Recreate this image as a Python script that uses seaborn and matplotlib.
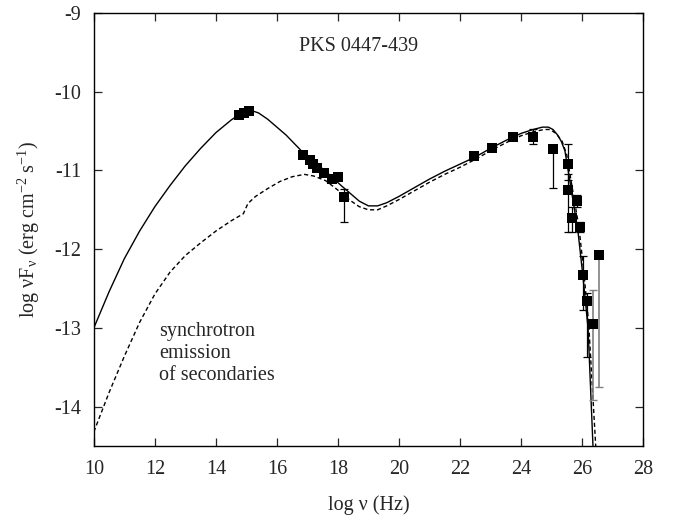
import numpy as np
import pandas as pd
import matplotlib
matplotlib.use("Agg")
import matplotlib.pyplot as plt
import seaborn as sns

# ---- data ----
total_x = [10.0, 10.5, 11.0, 11.5, 12.0, 12.5, 13.0, 13.5, 14.0, 14.5, 14.8, 15.1, 15.4, 15.7,
           16.0, 16.3, 16.6, 16.9, 17.2, 17.5, 17.8, 18.1, 18.4, 18.7, 19.0, 19.3, 19.6, 20.0,
           20.5, 21.0, 21.5, 22.0, 22.5, 23.0, 23.5, 24.0, 24.4, 24.7, 24.9, 25.05, 25.2,
           25.32, 25.44, 25.61, 25.87, 26.03, 26.2, 26.36]
total_y = [-13.00, -12.54, -12.12, -11.77, -11.46, -11.19, -10.94, -10.72, -10.52, -10.36,
           -10.28, -10.23, -10.27, -10.35, -10.45, -10.55, -10.67, -10.79, -10.88, -10.98,
           -11.08, -11.19, -11.29, -11.39, -11.45, -11.45, -11.41, -11.33, -11.22, -11.11,
           -11.01, -10.92, -10.83, -10.72, -10.62, -10.53, -10.48, -10.45, -10.45, -10.48,
           -10.55, -10.63, -10.75, -11.15, -11.78, -12.34, -13.01, -14.50]

sec_x = [10.0, 10.5, 11.0, 11.5, 12.0, 12.5, 13.0, 13.5, 14.0, 14.5, 14.9, 15.05, 15.3, 15.7,
         16.1, 16.5, 16.9, 17.2, 17.6, 18.0, 18.4, 18.7, 19.0, 19.3, 19.6, 20.0, 20.5, 21.0,
         21.5, 22.0, 22.5, 23.0, 23.5, 24.0, 24.4, 24.75, 24.95, 25.15, 25.35, 25.5, 25.65,
         25.9, 26.05, 26.22, 26.45]
sec_y = [-14.32, -13.82, -13.36, -12.93, -12.57, -12.29, -12.08, -11.92, -11.77, -11.64,
         -11.55, -11.42, -11.33, -11.23, -11.14, -11.08, -11.05, -11.07, -11.13, -11.25,
         -11.38, -11.46, -11.50, -11.50, -11.45, -11.37, -11.26, -11.15, -11.05, -10.96,
         -10.86, -10.75, -10.65, -10.56, -10.51, -10.48, -10.48, -10.53, -10.63, -10.80,
         -11.15, -11.72, -12.25, -12.95, -14.50]

obs_x = [14.75, 14.92, 15.08, 16.85, 17.08, 17.18, 17.31, 17.54, 17.80, 18.00, 18.20,
         22.46, 23.05, 23.74, 24.39, 25.05, 25.54, 25.54, 25.84, 25.67, 25.93, 26.03,
         26.16, 26.36, 26.56]
obs_y = [-10.30, -10.27, -10.24, -10.80, -10.87, -10.92, -10.97, -11.03, -11.11, -11.08,
         -11.34, -10.82, -10.71, -10.57, -10.57, -10.73, -10.92, -11.25, -11.39, -11.61,
         -11.72, -12.33, -12.66, -12.95, -12.07]

# error bars (lower, upper)
err_x = [18.20, 24.39, 25.05, 25.54, 25.54, 25.67, 25.84, 25.93, 26.03, 26.16]
err_y = [-11.34, -10.57, -10.73, -10.92, -11.25, -11.61, -11.39, -11.72, -12.33, -12.66]
err_lo = [0.31, 0.09, 0.49, 0.20, 0.53, 0.17, 0.08, 0.06, 0.44, 0.71]
err_hi = [0.11, 0.10, 0.05, 0.25, 0.20, 0.14, 0.08, 0.06, 0.24, 0.10]

grey_x = [26.36, 26.56]
grey_y = [-12.95, -12.07]
grey_lo = [0.97, 1.68]
grey_hi = [0.43, 0.0]

x_ticks = [10, 12, 14, 16, 18, 20, 22, 24, 26, 28]
y_ticks = [-14, -13, -12, -11, -10, -9]

# ---- style ----
sns.set_theme(style="ticks")
plt.rcParams["font.family"] = ["Liberation Serif", "DejaVu Serif"]
plt.rcParams["mathtext.fontset"] = "custom"
plt.rcParams["mathtext.rm"] = "Liberation Serif"
plt.rcParams["mathtext.it"] = "Liberation Serif:italic"
plt.rcParams["mathtext.bf"] = "Liberation Serif:bold"
plt.rcParams["axes.unicode_minus"] = False

fig = plt.figure(figsize=(6.8, 5.17), dpi=100)
ax = fig.add_axes([0.138, 0.1373, 0.8076, 0.8376])

df_tot = pd.DataFrame({"x": total_x, "y": total_y})
df_sec = pd.DataFrame({"x": sec_x, "y": sec_y})
df_obs = pd.DataFrame({"x": obs_x, "y": obs_y})

sns.lineplot(data=df_tot, x="x", y="y", ax=ax, color="black", lw=1.0, sort=False,
             estimator=None)
sns.lineplot(data=df_sec, x="x", y="y", ax=ax, color="black", lw=1.0, sort=False,
             estimator=None, linestyle=(0, (3, 2)))

ax.errorbar(err_x, err_y, yerr=[err_lo, err_hi], fmt="none", ecolor="black",
            elinewidth=0.9, capsize=3, capthick=0.9, zorder=3)
ax.errorbar(grey_x, grey_y, yerr=[grey_lo, grey_hi], fmt="none", ecolor="#808080",
            elinewidth=1.2, capsize=3, capthick=1.0, zorder=3)

sns.scatterplot(data=df_obs, x="x", y="y", ax=ax, marker="s", s=55, color="black",
                edgecolor="black", linewidth=0, zorder=4)

ax.set_xlim(10, 28)
ax.set_ylim(-14.5, -9)
ax.set_xticks(x_ticks)
ax.set_yticks(y_ticks)
ax.tick_params(direction="in", length=6, width=0.9, top=True, right=True,
               labelsize=14.5)
ax.tick_params(axis="x", pad=10)
ax.tick_params(axis="y", pad=9)
for s in ax.spines.values():
    s.set_linewidth(1.0)
    s.set_color("black")

ax.set_xlabel(r"log ν (Hz)", fontsize=14.5, labelpad=12)
ax.set_ylabel(r"log νF$_{\mathrm{ν}}$ (erg cm$^{\mathrm{-2}}$ s$^{\mathrm{-1}}$)",
              fontsize=14.5, labelpad=9)

ax.text(18.69, -9.43, "PKS 0447-439", ha="center", va="center", fontsize=14.5)
ax.text(12.15, -12.93, "synchrotron\nemission\nof secondaries", ha="left", va="top",
        fontsize=14.5, linespacing=1.2)

fig.savefig("out.png", dpi=100)
